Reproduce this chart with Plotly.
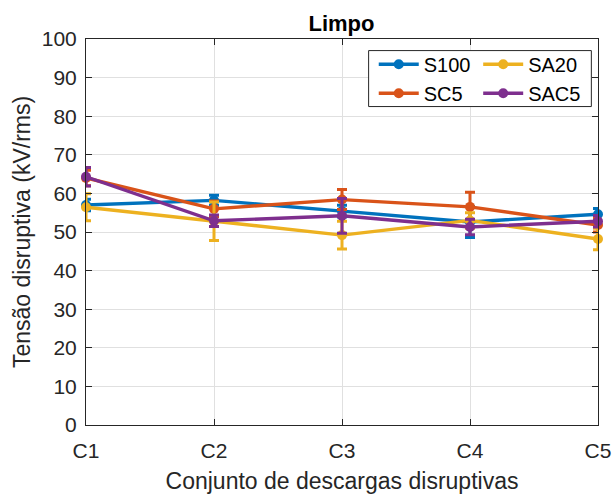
import plotly.graph_objects as go

categories = ["C1", "C2", "C3", "C4", "C5"]
series_names = ["S100", "SC5", "SA20", "SAC5"]
colors = ["#0072BD", "#D95319", "#EDB120", "#7E2F8E"]
s100 = [57.0, 58.2, 55.4, 52.6, 54.6]
s100_err = [1.5, 1.3, 1.5, 4.0, 1.5]
sc5 = [64.0, 56.0, 58.4, 56.5, 51.8]
sc5_err = [2.0, 2.0, 2.6, 3.8, 1.8]
sa20 = [56.4, 52.8, 49.2, 53.0, 48.2]
sa20_err = [3.5, 5.0, 3.6, 2.0, 2.8]
sac5 = [64.3, 52.9, 54.2, 51.3, 52.8]
sac5_err = [2.4, 1.5, 4.5, 2.0, 1.5]
legend_group = ["legend", "legend", "legend2", "legend2"]

values = [s100, sc5, sa20, sac5]
errors = [s100_err, sc5_err, sa20_err, sac5_err]

font = "Liberation Sans, Arial, sans-serif"
fig = go.Figure()
for name, v, e, c, lg in zip(series_names, values, errors, colors, legend_group):
    fig.add_trace(go.Scatter(
        x=categories, y=v, name=name, mode="lines+markers",
        line=dict(color=c, width=3.4),
        marker=dict(color=c, size=10, symbol="circle"),
        error_y=dict(type="data", array=e, visible=True, color=c, thickness=3, width=5),
        cliponaxis=False, legend=lg,
    ))

axis_common = dict(
    showline=True, linecolor="#262626", linewidth=1, mirror="ticks",
    ticks="inside", ticklen=6, tickcolor="#262626",
    showgrid=True, gridcolor="#e0e0e0", gridwidth=1,
    tickfont=dict(size=21, color="#262626", family=font),
    zeroline=False,
)
leg_common = dict(orientation="v", yanchor="top", bgcolor="rgba(0,0,0,0)", borderwidth=0,
                  font=dict(size=20, color="black", family=font),
                  itemwidth=40, tracegroupgap=0, xanchor="left")
fig.update_layout(
    width=613, height=494,
    margin=dict(l=86, r=15, t=39, b=69),
    paper_bgcolor="white", plot_bgcolor="white",
    title=dict(text="<b>Limpo</b>", x=0.557, xanchor="center", y=0.953, yanchor="middle",
               font=dict(size=22, color="black", family=font)),
    xaxis=dict(axis_common, type="category", range=[0, 4], ticklabelstandoff=7, automargin=False,
               title=dict(text="Conjunto de descargas disruptivas", font=dict(size=23, color="#262626", family=font))),
    yaxis=dict(axis_common, range=[0, 100], dtick=10, ticklabelstandoff=4, automargin=True,
               title=dict(text="Tensão disruptiva (kV/rms)", font=dict(size=23, color="#262626", family=font), standoff=4)),
    legend=dict(leg_common, x=0.562, y=0.985),
    legend2=dict(leg_common, x=0.766, y=0.985),
    shapes=[dict(type="rect", xref="paper", yref="paper", x0=0.552, x1=0.987, y0=0.825, y1=0.970,
                 fillcolor="white", line=dict(color="#262626", width=1), layer="above")],
    showlegend=True,
)
fig.write_html("out.html")
